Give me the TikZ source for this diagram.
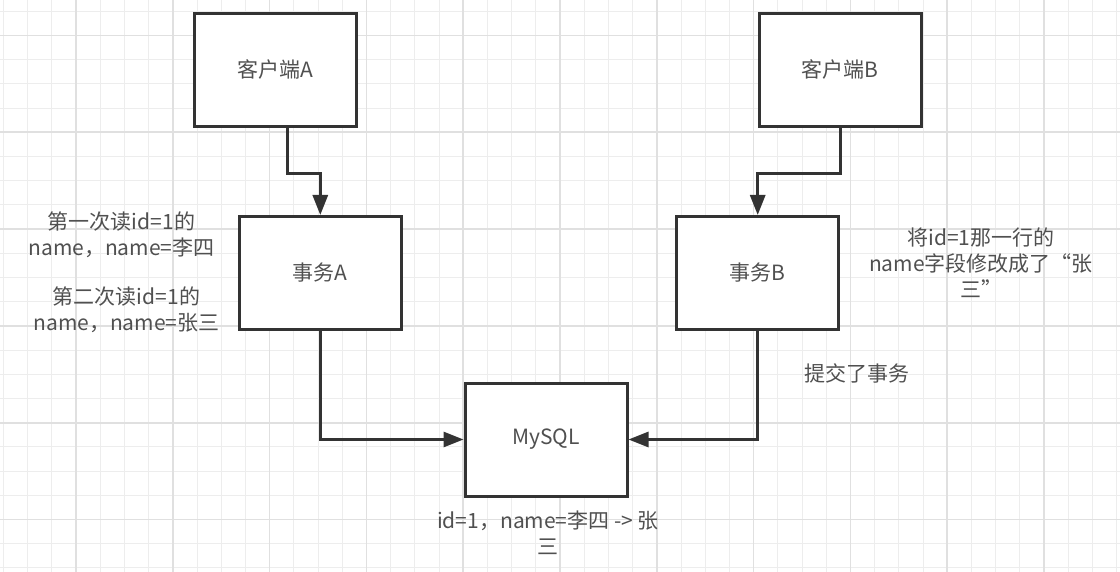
\documentclass[tikz,border=0pt]{standalone}
\usepackage{fontspec}
\setmainfont{Noto Sans CJK SC}
\usetikzlibrary{arrows.meta}
\definecolor{gridminor}{HTML}{EDEDED}
\definecolor{gridmajor}{HTML}{E0E0E0}
\definecolor{ink}{HTML}{333333}
\definecolor{txt}{HTML}{505050}
\begin{document}
\begin{tikzpicture}[x=1pt,y=-1pt,
  minorline/.style={draw=gridminor,line width=1pt},
  majorline/.style={draw=gridmajor,line width=1.6pt},
  boxnode/.style={draw=ink,line width=3pt,fill=white,minimum width=162pt,minimum height=113pt,inner sep=0pt,
    text=txt,font=\fontsize{21}{26}\selectfont},
  label/.style={text=txt,font=\fontsize{21}{26}\selectfont,align=center,inner sep=0pt},
  conn/.style={draw=ink,line width=3pt,-{Triangle[length=20pt,width=15pt]}}]
\useasboundingbox[fill=white] (0,0) rectangle (1120,572);
% grid
\foreach \k in {0,...,46}{\pgfmathsetmacro\xx{3.4+24.2*\k}\draw[minorline] (\xx,0) -- (\xx,572);}
\foreach \k in {0,...,23}{\pgfmathsetmacro\yy{11.3+24.2*\k}\draw[minorline] (0,\yy) -- (1120,\yy);}
\foreach \k in {3,7,...,43}{\pgfmathsetmacro\xx{3.4+24.2*\k}\draw[majorline] (\xx,0) -- (\xx,572);}
\foreach \k in {1,5,...,21}{\pgfmathsetmacro\yy{11.3+24.2*\k}\draw[majorline] (0,\yy) -- (1120,\yy);}
% boxes
\node[boxnode] (ca) at (275,69.7) {客户端A};
\node[boxnode] (cb) at (840,69.7) {客户端B};
\node[boxnode] (ta) at (320.3,273) {事务A};
\node[boxnode] (tb) at (757.7,273) {事务B};
\node[boxnode] (db) at (546,439.5) {MySQL};
% connectors
\draw[conn] ([xshift=12.7pt]ca.south) -- ++(0,45.7) -| (ta.north);
\draw[conn] (cb.south) -- ++(0,45.7) -| (tb.north);
\draw[conn] (ta.south) |- (db.west);
\draw[conn] (tb.south) |- (db.east);
% labels
\node[label] (l1) at (121.5,235) {第一次读id=1的\\name，name=李四};
\node[label] (l2) at (126.5,309.5) {第二次读id=1的\\name，name=张三};
\node[label] (r1) at (981,263) {将id=1那一行的\\name字段修改成了“张\\三”};
\node[label] (r2) at (857,373) {提交了事务};
\node[label] (b1) at (548,532.5) {id=1，name=李四 -> 张\\三};
\end{tikzpicture}
\end{document}
